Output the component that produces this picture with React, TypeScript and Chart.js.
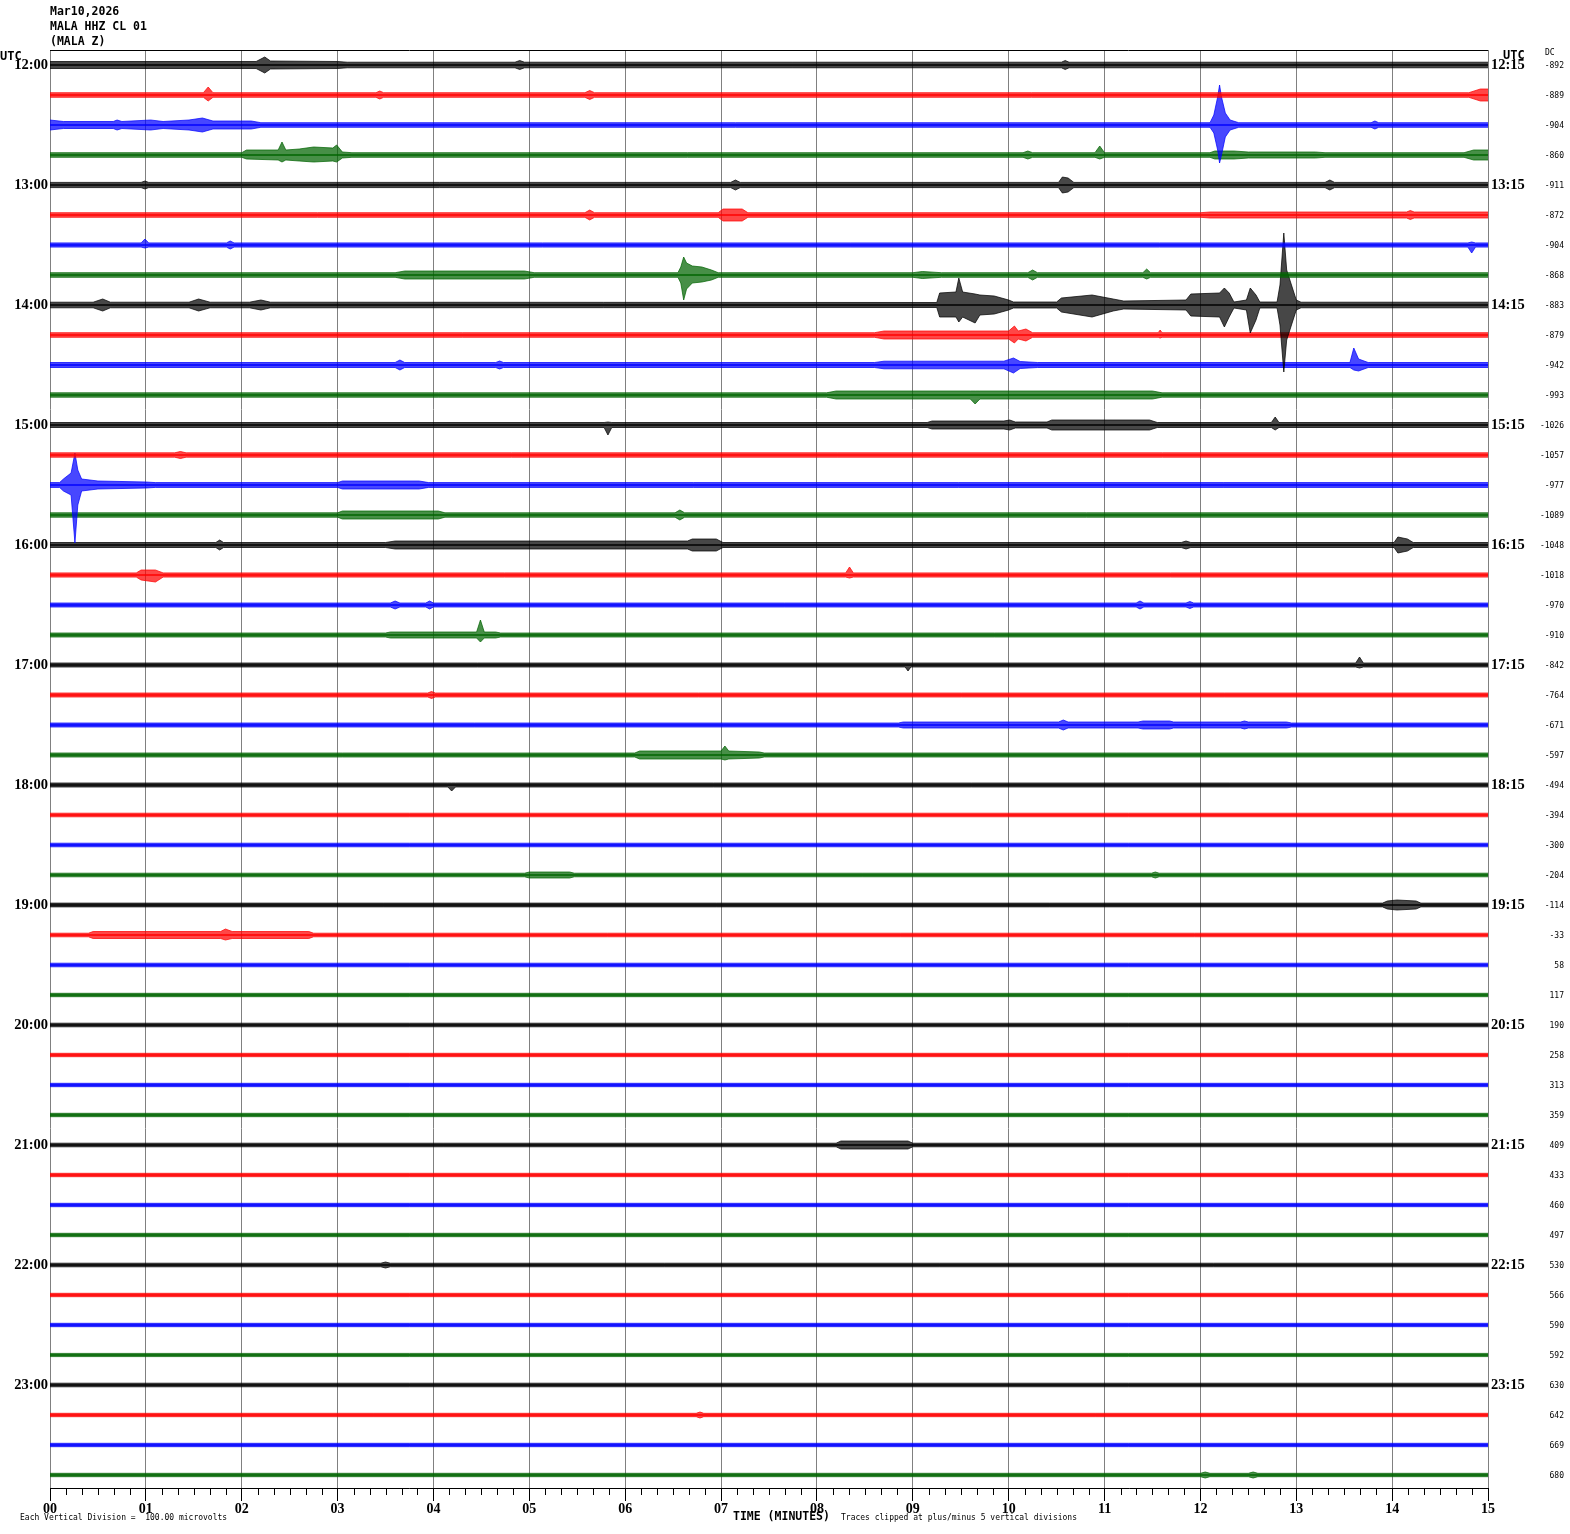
import React, { useEffect, useRef } from "react";
import { Chart, registerables } from "chart.js";

Chart.register(...registerables);

// ---------- data ----------
const headerLines = ["Mar10,2026", "MALA HHZ CL 01", "(MALA Z)"];
const hourLabels = ["12:00", "13:00", "14:00", "15:00", "16:00", "17:00", "18:00", "19:00", "20:00", "21:00", "22:00", "23:00"];
const quarterLabels = ["12:15", "13:15", "14:15", "15:15", "16:15", "17:15", "18:15", "19:15", "20:15", "21:15", "22:15", "23:15"];
const minuteLabels = ["00", "01", "02", "03", "04", "05", "06", "07", "08", "09", "10", "11", "12", "13", "14", "15"];
const dcValues = [
  -892, -889, -904, -860, -911, -872, -904, -868, -883, -879, -942, -993,
  -1026, -1057, -977, -1089, -1048, -1018, -970, -910, -842, -764, -671, -597,
  -494, -394, -300, -204, -114, -33, 58, 117, 190, 258, 313, 359,
  409, 433, 460, 497, 530, 566, 590, 592, 630, 642, 669, 680,
];
const traceColors = ["#000000", "#ff0000", "#0000ff", "#006400"];
// spacing between traces, in trace amplitude units
const traceSpacing = 30;
// background (noise) half-amplitude of each trace
const traceNoise = [
  2.8, 2.3, 2.3, 2.3, 2.6, 2.3, 2.1, 2.3, 2.8, 2.3, 2.5, 2.2,
  2.5, 2.2, 2.4, 2.2, 2.5, 2.1, 2.0, 2.0, 2.0, 2.0, 2.0, 2.0,
  2.0, 1.8, 1.8, 1.8, 1.9, 1.8, 1.8, 1.7, 1.8, 1.7, 1.7, 1.7,
  1.8, 1.7, 1.7, 1.7, 1.8, 1.7, 1.7, 1.6, 1.8, 1.7, 1.7, 1.7,
];
// envelope points read from the record: [trace, [[minute, up, down], ...]]
const traceEvents: [number, number[][]][] = [
  [0, [[0, 3.5, 3.5], [2.15, 3.5, 3.5], [2.24, 8, 8], [2.3, 4, 4], [3.0, 3.5, 3.5], [3.1, 2.8, 2.8], [4.85, 2.8, 2.8], [4.9, 4.5, 4.5], [4.95, 2.8, 2.8], [10.55, 2.8, 2.8], [10.59, 4.5, 4.5], [10.63, 2.8, 2.8]]],
  [1, [[1.6, 2.3, 2.3], [1.65, 8, 6], [1.7, 2.3, 2.3], [3.4, 2.3, 2.3], [3.44, 4, 4], [3.48, 2.3, 2.3], [5.58, 2.3, 2.3], [5.63, 4.5, 4.5], [5.68, 2.3, 2.3], [14.8, 2.3, 2.3], [14.92, 6, 6], [15, 6, 6]]],
  [2, [[0, 5, 5], [0.14, 3.5, 3.5], [0.66, 3.5, 3.5], [0.7, 5, 5], [0.75, 3.5, 3.5], [1.05, 5, 5], [1.18, 3.5, 3.5], [1.45, 5, 5], [1.59, 7, 7], [1.7, 4, 4], [2.1, 4, 4], [2.2, 2.3, 2.3], [12.1, 2.3, 2.3], [12.14, 10, 8], [12.18, 28, 25], [12.2, 40, 38], [12.22, 28, 30], [12.26, 12, 12], [12.31, 5, 5], [12.4, 2.3, 2.3], [13.78, 2.3, 2.3], [13.82, 4, 4], [13.86, 2.3, 2.3]]],
  [3, [[2.0, 2.3, 2.3], [2.05, 5, 4], [2.38, 5, 5], [2.42, 13, 7], [2.46, 5, 5], [2.6, 6, 6], [2.75, 8, 7], [2.95, 7, 6], [2.99, 10, 7], [3.05, 3, 3], [3.15, 2.3, 2.3], [10.15, 2.3, 2.3], [10.2, 4, 4], [10.25, 2.3, 2.3], [10.9, 2.3, 2.3], [10.95, 9, 4], [11.0, 2.3, 2.3], [12.1, 2.3, 2.3], [12.15, 4, 4], [12.35, 4, 4], [12.5, 3, 3], [13.2, 3, 3], [13.3, 2.3, 2.3], [14.75, 2.3, 2.3], [14.85, 5, 5], [15, 5, 5]]],
  [4, [[0.95, 2.6, 2.6], [0.99, 4, 4], [1.03, 2.6, 2.6], [7.1, 2.6, 2.6], [7.15, 5, 5], [7.2, 2.6, 2.6], [10.52, 2.6, 2.6], [10.56, 8, 8], [10.62, 7, 7], [10.68, 2.6, 2.6], [13.3, 2.6, 2.6], [13.35, 5, 5], [13.4, 2.6, 2.6]]],
  [5, [[5.58, 2.3, 2.3], [5.63, 5, 5], [5.68, 2.3, 2.3], [6.97, 2.3, 2.3], [7.02, 6, 6], [7.22, 6, 6], [7.28, 2.3, 2.3], [12.0, 2.3, 2.3], [12.1, 3, 3], [14.15, 3, 3], [14.19, 4.5, 4.5], [14.23, 3, 3], [15, 3, 3]]],
  [6, [[0.95, 2.1, 2.1], [0.99, 6, 3], [1.03, 2.1, 2.1], [1.84, 2.1, 2.1], [1.88, 4, 4], [1.92, 2.1, 2.1], [14.79, 2.1, 2.1], [14.83, 3, 8], [14.87, 2.1, 2.1]]],
  [7, [[3.6, 2.3, 2.3], [3.7, 4, 4], [4.95, 4, 4], [5.05, 2.3, 2.3], [6.55, 2.3, 2.3], [6.58, 8, 8], [6.61, 18, 25], [6.64, 12, 14], [6.7, 9, 8], [6.8, 8, 7], [6.9, 5, 5], [6.97, 2.3, 2.3], [9.0, 2.3, 2.3], [9.1, 3.5, 3.5], [9.3, 2.3, 2.3], [10.2, 2.3, 2.3], [10.25, 5, 5], [10.3, 2.3, 2.3], [11.4, 2.3, 2.3], [11.44, 6, 4], [11.48, 2.3, 2.3]]],
  [8, [[0.45, 2.8, 2.8], [0.55, 6, 6], [0.63, 2.8, 2.8], [1.45, 2.8, 2.8], [1.55, 6, 6], [1.67, 2.8, 2.8], [2.08, 2.8, 2.8], [2.2, 5, 5], [2.3, 2.8, 2.8], [9.25, 2.5, 2.5], [9.28, 12, 12], [9.45, 13, 12], [9.48, 27, 17], [9.52, 13, 12], [9.65, 11, 18], [9.7, 10, 10], [9.85, 9, 9], [10.0, 5, 5], [10.05, 3, 3], [10.5, 3, 3], [10.55, 7, 7], [10.87, 10, 12], [11.09, 6, 6], [11.2, 4, 4], [11.85, 5, 5], [11.9, 11, 11], [12.2, 12, 12], [12.25, 17, 22], [12.3, 12, 12], [12.35, 3, 3], [12.48, 5, 5], [12.52, 17, 28], [12.58, 10, 15], [12.62, 3, 3], [12.8, 3, 3], [12.83, 20, 20], [12.87, 72, 67], [12.9, 35, 35], [12.95, 20, 20], [13.0, 5, 5], [13.05, 2.8, 2.8]]],
  [9, [[8.6, 2.3, 2.3], [8.7, 4, 4], [10.0, 4, 4], [10.06, 9, 8], [10.1, 4, 4], [10.18, 6, 6], [10.25, 2.3, 2.3], [11.56, 2.3, 2.3], [11.58, 5, 3], [11.6, 2.3, 2.3]]],
  [10, [[3.6, 2.5, 2.5], [3.65, 5, 5], [3.7, 2.5, 2.5], [4.65, 2.5, 2.5], [4.69, 4, 4], [4.73, 2.5, 2.5], [8.6, 2.5, 2.5], [8.7, 3.8, 3.8], [9.95, 3.8, 3.8], [10.05, 7, 8], [10.12, 3.5, 3.5], [10.3, 2.5, 2.5], [13.56, 2.5, 2.5], [13.6, 17, 5], [13.65, 6, 6], [13.75, 2.5, 2.5]]],
  [11, [[8.1, 2.2, 2.2], [8.2, 4, 4], [9.6, 4, 4], [9.65, 4, 9], [9.7, 4, 4], [11.5, 4, 4], [11.6, 2.2, 2.2]]],
  [12, [[5.78, 2.5, 2.5], [5.82, 3, 10], [5.86, 2.5, 2.5], [9.15, 2.5, 2.5], [9.2, 4, 4], [9.95, 4, 4], [10.01, 5, 5], [10.07, 3, 3], [10.4, 3, 3], [10.45, 5, 5], [11.47, 5, 5], [11.55, 2.5, 2.5], [12.74, 2.5, 2.5], [12.78, 8, 5], [12.82, 2.5, 2.5]]],
  [13, [[1.3, 2.2, 2.2], [1.36, 3.5, 3.5], [1.42, 2.2, 2.2]]],
  [14, [[0.1, 2.4, 2.4], [0.14, 6, 6], [0.22, 12, 10], [0.26, 32, 58], [0.29, 15, 20], [0.33, 6, 6], [0.5, 4, 4], [1.0, 3, 3], [1.1, 2.4, 2.4], [3.0, 2.4, 2.4], [3.05, 4, 4], [3.85, 4, 4], [3.95, 2.4, 2.4]]],
  [15, [[3.0, 2.2, 2.2], [3.05, 4, 4], [4.05, 4, 4], [4.12, 2.2, 2.2], [6.52, 2.2, 2.2], [6.57, 5, 5], [6.62, 2.2, 2.2]]],
  [16, [[1.73, 2.5, 2.5], [1.77, 5, 5], [1.81, 2.5, 2.5], [3.5, 2.5, 2.5], [3.6, 4, 4], [6.65, 4, 4], [6.7, 6, 6], [6.95, 6, 6], [7.02, 2.5, 2.5], [11.8, 2.5, 2.5], [11.85, 4, 4], [11.9, 2.5, 2.5], [14.02, 2.5, 2.5], [14.06, 8, 8], [14.16, 6, 6], [14.22, 2.5, 2.5]]],
  [17, [[0.9, 2.1, 2.1], [0.95, 5, 5], [1.1, 5, 7], [1.18, 2.1, 2.1], [8.3, 2.1, 2.1], [8.34, 8, 3], [8.38, 2.1, 2.1]]],
  [18, [[3.55, 2, 2], [3.6, 4, 4], [3.65, 2, 2], [3.92, 2, 2], [3.96, 4, 4], [4.0, 2, 2], [11.33, 2, 2], [11.37, 4, 4], [11.41, 2, 2], [11.85, 2, 2], [11.89, 3.5, 3.5], [11.93, 2, 2]]],
  [19, [[3.5, 2, 2], [3.55, 3, 3], [4.45, 3, 3], [4.49, 15, 7], [4.53, 3, 3], [4.65, 3, 3], [4.7, 2, 2]]],
  [20, [[8.92, 2, 2], [8.95, 2, 6], [8.98, 2, 2], [13.62, 2, 2], [13.66, 8, 3], [13.7, 2, 2]]],
  [21, [[3.94, 2, 2], [3.98, 3.5, 3.5], [4.02, 2, 2]]],
  [22, [[8.85, 2, 2], [8.9, 3, 3], [10.52, 3, 3], [10.57, 5, 5], [10.62, 3, 3], [11.35, 3, 3], [11.4, 4, 4], [11.68, 4, 4], [11.72, 3, 3], [12.42, 3, 3], [12.46, 4, 4], [12.5, 3, 3], [12.9, 3, 3], [12.95, 2, 2]]],
  [23, [[6.1, 2, 2], [6.15, 4, 4], [7.0, 4, 4], [7.04, 9, 5], [7.08, 4, 4], [7.4, 3, 3], [7.45, 2, 2]]],
  [24, [[4.15, 2, 2], [4.19, 2, 6], [4.23, 2, 2]]],
  [27, [[4.95, 1.8, 1.8], [5.0, 3, 3], [5.42, 3, 3], [5.47, 1.8, 1.8], [11.49, 1.8, 1.8], [11.53, 3, 3], [11.57, 1.8, 1.8]]],
  [28, [[13.9, 1.9, 1.9], [13.95, 4, 4], [14.05, 5, 5], [14.25, 4, 4], [14.3, 1.9, 1.9]]],
  [29, [[0.4, 1.8, 1.8], [0.45, 3.5, 3.5], [1.78, 3.5, 3.5], [1.83, 6, 5], [1.9, 3.5, 3.5], [2.7, 3.5, 3.5], [2.75, 1.8, 1.8]]],
  [36, [[8.2, 1.8, 1.8], [8.25, 4, 4], [8.95, 4, 4], [9.0, 1.8, 1.8]]],
  [40, [[3.45, 1.8, 1.8], [3.5, 3, 3], [3.55, 1.8, 1.8]]],
  [45, [[6.74, 1.7, 1.7], [6.78, 3, 3], [6.82, 1.7, 1.7]]],
  [47, [[12.0, 1.7, 1.7], [12.05, 3, 3], [12.1, 1.7, 1.7], [12.5, 1.7, 1.7], [12.55, 3, 3], [12.6, 1.7, 1.7]]],
];

// ---------- helpers ----------
const MONO = "'DejaVu Sans Mono', 'Liberation Mono', monospace";
const SERIF = "'Liberation Serif', 'DejaVu Serif', serif";

function withAlpha(hex: string, a: number) {
  const r = parseInt(hex.slice(1, 3), 16);
  const g = parseInt(hex.slice(3, 5), 16);
  const b = parseInt(hex.slice(5, 7), 16);
  return `rgba(${r},${g},${b},${a})`;
}

function envelopeFor(row: number): number[][] {
  const n = traceNoise[row];
  const found = traceEvents.find((e) => e[0] === row);
  const pts = found ? found[1].slice() : [];
  if (!pts.length || pts[0][0] > 0) pts.unshift([0, n, n]);
  if (pts[pts.length - 1][0] < 15) pts.push([15, n, n]);
  return pts;
}

function buildDatasets() {
  const ds: any[] = [];
  for (let row = 0; row < traceNoise.length; row++) {
    const color = traceColors[row % traceColors.length];
    const soft = withAlpha(color, 0.72);
    const base = row * traceSpacing;
    const env = envelopeFor(row);
    ds.push({
      data: env.map((p) => ({ x: p[0], y: base - p[1] })),
      borderColor: soft,
      backgroundColor: soft,
      borderWidth: 1,
      pointRadius: 0,
      tension: 0,
      fill: false,
    });
    ds.push({
      data: env.map((p) => ({ x: p[0], y: base + p[2] })),
      borderColor: soft,
      backgroundColor: soft,
      borderWidth: 1,
      pointRadius: 0,
      tension: 0,
      fill: "-1",
    });
    ds.push({
      data: [{ x: 0, y: base }, { x: 15, y: base }],
      borderColor: color,
      borderWidth: 1.5,
      pointRadius: 0,
      fill: false,
    });
  }
  return ds;
}

const yMin = -traceSpacing / 2;
const yMax = yMin + 1438 * (traceSpacing / 30);

const decorPlugin = {
  id: "decor",
  afterDraw(chart: any) {
    const { ctx, chartArea, scales } = chart;
    const xs = scales.x;
    const yd = scales.yDC;
    ctx.save();
    ctx.strokeStyle = "#000";
    ctx.lineWidth = 1;
    ctx.beginPath();
    ctx.moveTo(chartArea.left, chartArea.top + 0.5);
    ctx.lineTo(chartArea.right, chartArea.top + 0.5);
    ctx.stroke();
    ctx.beginPath();
    for (let k = 0; k <= 90; k++) {
      if (k % 6 === 0) continue;
      const px = Math.round(xs.getPixelForValue(k / 6)) + 0.5;
      ctx.moveTo(px, chartArea.bottom);
      ctx.lineTo(px, chartArea.bottom + 7);
    }
    ctx.stroke();
    ctx.fillStyle = "#000";
    // DC offsets, right aligned
    ctx.font = `8px ${MONO}`;
    ctx.textAlign = "right";
    ctx.textBaseline = "middle";
    dcValues.forEach((v, i) => ctx.fillText(String(v), 1564, yd.getPixelForValue(i * traceSpacing) + 1));
    ctx.textBaseline = "top";
    ctx.textAlign = "left";
    ctx.font = `bold 11.5px ${MONO}`;
    headerLines.forEach((t, i) => ctx.fillText(t, 50, 6 + i * 15));
    ctx.font = `bold 12px ${MONO}`;
    ctx.fillText("UTC", 0, 51);
    ctx.fillText("UTC", 1503, 50);
    ctx.font = `8px ${MONO}`;
    ctx.fillText("DC", 1545, 49);
    ctx.font = `bold 11.5px ${MONO}`;
    ctx.textBaseline = "middle";
    ctx.fillText("TIME (MINUTES)", 733, 1517);
    ctx.font = `8px ${MONO}`;
    ctx.fillText("Each Vertical Division =  100.00 microvolts", 20, 1518);
    ctx.fillText("Traces clipped at plus/minus 5 vertical divisions", 841, 1518);
    ctx.restore();
  },
};

export default function App() {
  const ref = useRef<HTMLCanvasElement | null>(null);
  useEffect(() => {
    if (!ref.current) return;
    const hourTicks = hourLabels.map((_, i) => ({ value: i * 4 * traceSpacing }));
    const chart = new Chart(ref.current, {
      type: "line",
      data: { datasets: buildDatasets() },
      plugins: [decorPlugin],
      options: {
        responsive: false,
        animation: false,
        events: [],
        layout: { padding: { top: 50, left: 0, right: 0, bottom: 0 } },
        plugins: { legend: { display: false }, tooltip: { enabled: false } },
        elements: { line: { tension: 0 } },
        scales: {
          x: {
            type: "linear",
            min: 0,
            max: 15,
            position: "bottom",
            z: 1,
            afterBuildTicks: (s: any) => {
              s.ticks = minuteLabels.map((_, i) => ({ value: i }));
            },
            afterFit: (s: any) => {
              s.height = 46;
            },
            ticks: {
              autoSkip: false,
              maxRotation: 0,
              padding: 0,
              color: "#000",
              font: { family: SERIF, weight: "bold", size: 14 },
              callback: (v: any) => minuteLabels[Math.round(v)],
            },
            grid: { color: "#808080", lineWidth: 1, tickLength: 13, tickColor: "#000", drawOnChartArea: true },
            border: { display: true, color: "#000", width: 1 },
          },
          y: {
            type: "linear",
            min: yMin,
            max: yMax,
            reverse: true,
            position: "left",
            afterBuildTicks: (s: any) => {
              s.ticks = hourTicks.map((t) => ({ ...t }));
            },
            afterFit: (s: any) => {
              s.width = 50;
            },
            ticks: {
              autoSkip: false,
              padding: 2,
              color: "#000",
              font: { family: SERIF, weight: "bold", size: 14.5 },
              callback: (v: any) => hourLabels[Math.round(v / traceSpacing / 4)],
            },
            grid: { display: false, drawTicks: false },
            border: { display: false },
          },
          yQ: {
            type: "linear",
            min: yMin,
            max: yMax,
            reverse: true,
            position: "right",
            weight: 0,
            afterBuildTicks: (s: any) => {
              s.ticks = hourTicks.map((t) => ({ ...t }));
            },
            afterFit: (s: any) => {
              s.width = 45;
            },
            ticks: {
              autoSkip: false,
              padding: 3,
              color: "#000",
              font: { family: SERIF, weight: "bold", size: 14.5 },
              callback: (v: any) => quarterLabels[Math.round(v / traceSpacing / 4)],
            },
            grid: { display: false, drawTicks: false },
            border: { display: false },
          },
          yDC: {
            type: "linear",
            min: yMin,
            max: yMax,
            reverse: true,
            position: "right",
            weight: 1,
            afterFit: (s: any) => {
              s.width = 37;
            },
            ticks: { display: false },
            grid: { display: false, drawTicks: false },
            border: { display: false },
          },
        },
      } as any,
    });
    return () => chart.destroy();
  }, []);
  return (
    <div style={{ position: "absolute", left: 0, top: 0, width: 1570, height: 1534, background: "#fff" }}>
      <canvas ref={ref} width={1570} height={1534} style={{ display: "block" }} />
    </div>
  );
}
